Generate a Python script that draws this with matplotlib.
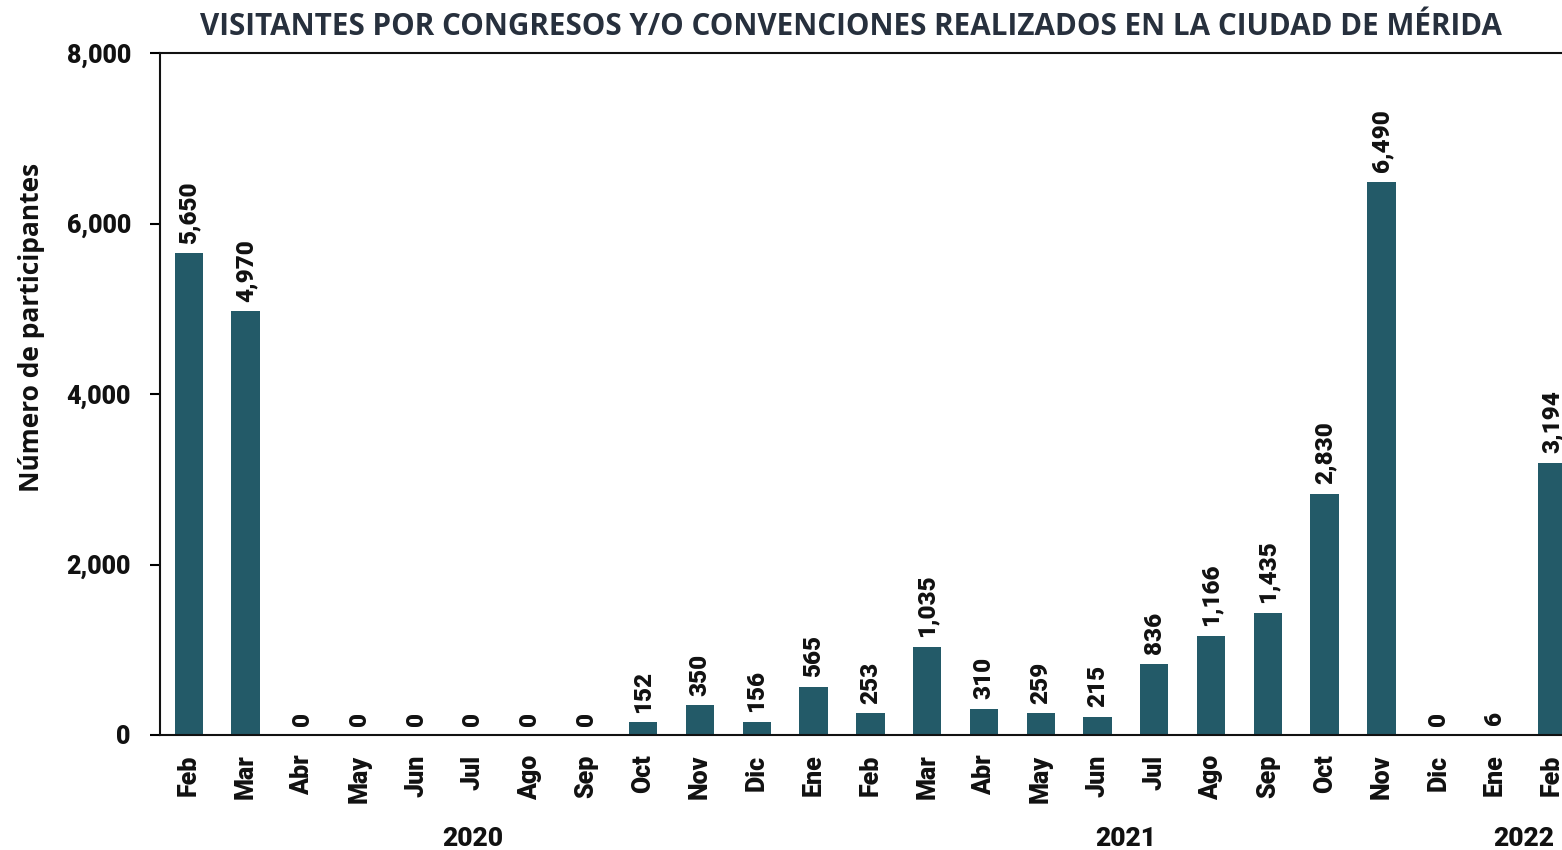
import matplotlib.pyplot as plt
import numpy as np

months = ['Feb', 'Mar', 'Abr', 'May', 'Jun', 'Jul', 'Ago', 'Sep', 'Oct', 'Nov', 'Dic',
          'Ene', 'Feb', 'Mar', 'Abr', 'May', 'Jun', 'Jul', 'Ago', 'Sep', 'Oct', 'Nov', 'Dic',
          'Ene', 'Feb']
visitors = [5650, 4970, 0, 0, 0, 0, 0, 0, 152, 350, 156,
            565, 253, 1035, 310, 259, 215, 836, 1166, 1435, 2830, 6490, 0,
            6, 3194]
years = ['2020', '2021', '2022']
year_counts = [11, 12, 2]

bar_color = '#235a68'
text_color = '#111111'
heavy = 'heavy'

fig = plt.figure(figsize=(15.62, 8.5), dpi=100)
ax = fig.add_axes([0.1024, 0.1353, 0.8976, 0.8023])

x = np.arange(len(months))
ax.bar(x, visitors, width=0.5, color=bar_color, zorder=2)

for xi, v in zip(x, visitors):
    ax.text(xi, v + 110, f'{v:,}', rotation=90, ha='center', va='bottom',
            fontsize=17.5, fontweight=heavy, family='Roboto', color=text_color)

ax.set_xlim(-0.51, 24.18)
ax.set_ylim(0, 8000)
ax.set_yticks([0, 2000, 4000, 6000, 8000])
ax.set_yticklabels([f'{t:,}' for t in [0, 2000, 4000, 6000, 8000]],
                   fontsize=18, fontweight=heavy, family='Roboto', color=text_color)
ax.set_xticks(x)
ax.set_xticklabels(months, rotation=90, fontsize=18, fontweight=heavy,
                   family='Roboto', color=text_color)
ax.tick_params(axis='x', length=0, pad=14)
ax.tick_params(axis='y', length=7, width=1.5, pad=14)

for side in ['left', 'bottom', 'top']:
    ax.spines[side].set_linewidth(1.5)
    ax.spines[side].set_color('#111111')
ax.spines['right'].set_visible(False)

# year labels under the month groups
start = 0
for yr, n in zip(years, year_counts):
    center = start + (n - 1) / 2
    ax.text(center, -0.152, yr, transform=ax.get_xaxis_transform(), ha='center',
            va='center', fontsize=19, fontweight=heavy, family='Roboto', color=text_color)
    start += n

fig.text(0.545, 0.968, 'VISITANTES POR CONGRESOS Y/O CONVENCIONES REALIZADOS EN LA CIUDAD DE MÉRIDA',
         ha='center', va='center', fontsize=21.3, fontweight='bold', family='Open Sans',
         color='#27303d')
fig.text(0.02, 0.615, 'Número de participantes', rotation=90, ha='center', va='center',
         fontsize=19, fontweight='bold', family='Open Sans', color=text_color)

fig.savefig('out.png', dpi=100)
